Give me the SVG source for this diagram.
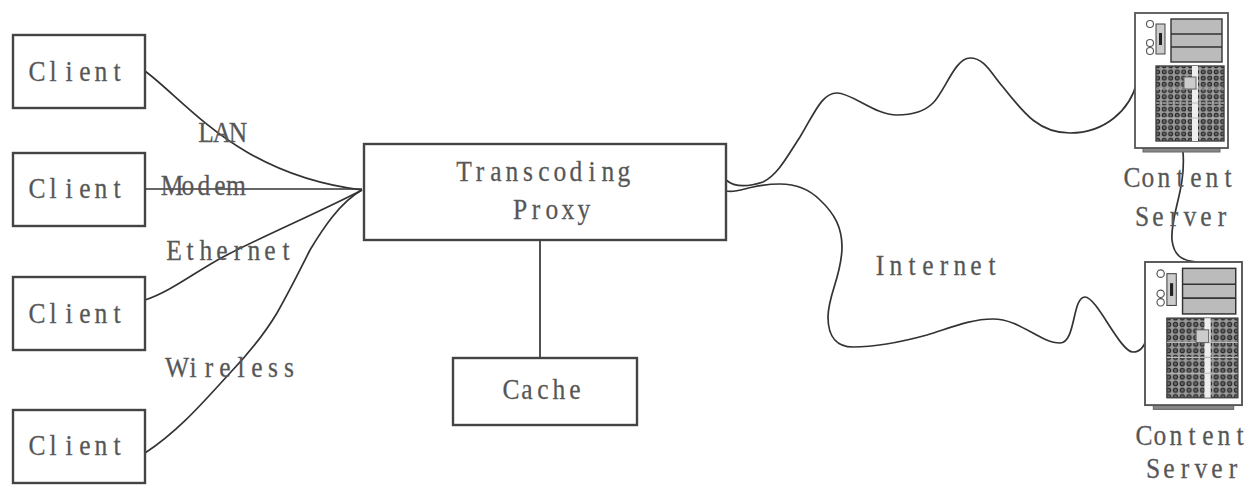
<svg xmlns="http://www.w3.org/2000/svg" xmlns:xlink="http://www.w3.org/1999/xlink" width="1249" height="485" viewBox="0 0 1249 485">
<style>
.box{fill:#fff;stroke:#444;stroke-width:2.4}
.t{font-family:"Liberation Serif",serif;font-size:30px;fill:#555;stroke:#666;stroke-width:.3}
.c{fill:none;stroke:#333;stroke-width:1.7}
.b{fill:#fff;stroke:#555;stroke-width:1.8}
.d{fill:#bbb;stroke:#333;stroke-width:1.4}
.k{fill:none;stroke:#555;stroke-width:1.1}
</style>
<defs>
<pattern id="dots" width="6.5" height="6.2" patternUnits="userSpaceOnUse">
<rect width="6.5" height="6.2" fill="#999"/>
<circle cx="3.2" cy="3.1" r="2" fill="#666" stroke="#222" stroke-width="1"/>
</pattern>
<symbol id="server" viewBox="0 0 93 140" width="93" height="140" overflow="visible">
<rect x="8" y="135" width="77" height="4" fill="#888" stroke="#666"/>
<rect class="b" x="0" y="0" width="93" height="135"/>
<circle class="k" cx="15" cy="11" r="3.5"/>
<circle class="k" cx="15" cy="30" r="3.5"/>
<circle class="k" cx="15" cy="38" r="3.5"/>
<rect x="21" y="11" width="9" height="30" fill="#ccc" stroke="#444"/>
<rect x="24" y="20" width="3" height="12" fill="#222"/>
<rect class="d" x="36" y="6" width="51" height="43"/>
<path class="k" d="M36 21H87M36 34H87" style="stroke:#333;stroke-width:1.6"/>
<rect x="21" y="53" width="68" height="75" fill="url(#dots)" stroke="#444" stroke-width="1.4"/>
<rect x="57" y="53" width="6" height="75" fill="#eee"/>
<path d="M21 76H89M21 90H89M21 105H89" stroke="#bbb" stroke-width="1"/>
<rect x="49" y="64" width="12" height="12" fill="#ccc" stroke="#666"/>
</symbol>
</defs>
<g id="connectors">
<path class="c" d="M145 71C190 105 240 175 362 190"/>
<path class="c" d="M145 189H362"/>
<path class="c" d="M145 300C170 292 195 272 223 257C265 235 320 212 362 190"/>
<path class="c" d="M145 453C180 430 205 400 230 373C250 352 265 333 277 313C290 290 300 270 310 250C322 230 340 202 362 190"/>
<path class="c" d="M540 240V357"/>
<path class="c" d="M726 180C733 186 745 188 763 182C778 175 788 155 800 137C815 112 822 93 837 93C852 93 875 115 897 115C915 115 927 109 933 103C945 91 955 58 970 58C985 58 992 75 1003 87C1025 115 1040 133 1070 133C1105 133 1130 110 1137 82"/>
<path class="c" d="M726 191C735 193 743 189 753 187C762 185 770 184 780 184C797 184 810 190 820 200C835 214 842 228 842 247C842 275 828 295 828 317C828 338 838 347 853 347C878 347 905 341 927 335C950 328 970 319 993 319C1020 319 1040 343 1060 343C1076 343 1072 297 1085 297C1097 297 1120 352 1133 352C1141 352 1145 345 1147 337"/>
<path class="c" d="M1183 152C1186 190 1170 215 1172 240C1174 258 1185 261 1197 262"/>
</g>
<g id="client1"><rect class="box" x="13" y="35" width="132" height="73"/><text class="t" transform="translate(29 81) scale(.85 1)" x="-.59 24.06 42.88 59.21 77.19 99.34">Client</text></g>
<g id="client2"><rect class="box" x="13" y="153" width="132" height="73"/><text class="t" transform="translate(29 198) scale(.85 1)" x="-.59 24.06 42.88 59.21 77.19 99.34">Client</text></g>
<g id="client3"><rect class="box" x="13" y="277" width="132" height="73"/><text class="t" transform="translate(29 323) scale(.85 1)" x="-.59 24.06 42.88 59.21 77.19 99.34">Client</text></g>
<g id="client4"><rect class="box" x="13" y="410" width="132" height="73"/><text class="t" transform="translate(29 455) scale(.85 1)" x="-.59 24.06 42.88 59.21 77.19 99.34">Client</text></g>
<g id="proxy"><rect class="box" x="364" y="144" width="362" height="96"/><text class="t" transform="translate(456 181) scale(.85 1)" x=".25 23.23 40.39 58.37 78.85 96.85 114.83 133.65 155.8 171.29 190.11">Transcoding</text><text class="t" transform="translate(512 219) scale(.85 1)" x="1.07 23.23 39.55 58.37 77.19">Proxy</text></g>
<g id="cache"><rect class="box" x="453" y="358" width="184" height="67"/><text class="t" transform="translate(503 399) scale(.85 1)" x="-.59 21.57 40.39 58.37 78.03">Cache</text></g>
<g id="server1"><use xlink:href="#server" href="#server" x="1135" y="13"/><text class="t" transform="translate(1124 187) scale(.85 1)" x="-.59 20.73 39.55 61.7 78.03 96.01 118.16">Content</text><text class="t" transform="translate(1134 226) scale(.85 1)" x="1.07 21.57 42.05 58.37 78.03 98.51">Server</text></g>
<g id="server2"><use xlink:href="#server" href="#server" transform="translate(1145 262) scale(1.043 1.06)"/><text class="t" transform="translate(1136 445) scale(.85 1)" x="-.59 20.73 39.55 61.7 78.03 96.01 118.16">Content</text><text class="t" transform="translate(1145 478) scale(.85 1)" x="1.07 21.57 42.05 58.37 78.03 98.51">Server</text></g>
<g id="labels">
<text class="t" transform="translate(198 142) scale(.85 1)" x=".25 17.4 36.22">LAN</text>
<text class="t" transform="translate(164 195) scale(.85 1)" x="-3.92 20.73 39.55 59.21 73.02">Modem</text>
<text class="t" transform="translate(166 260) scale(.85 1)" x=".25 24.06 39.55 59.21 79.69 96.01 115.67 136.98">Ethernet</text>
<text class="t" transform="translate(169 377) scale(.85 1)" x="-4.75 24.06 42.05 59.21 80.52 96.85 116.49 135.31">Wireless</text>
<text class="t" transform="translate(872 275) scale(.85 1)" x="4.41 20.73 42.88 59.21 79.69 96.01 115.67 136.98">Internet</text>
</g>
</svg>
